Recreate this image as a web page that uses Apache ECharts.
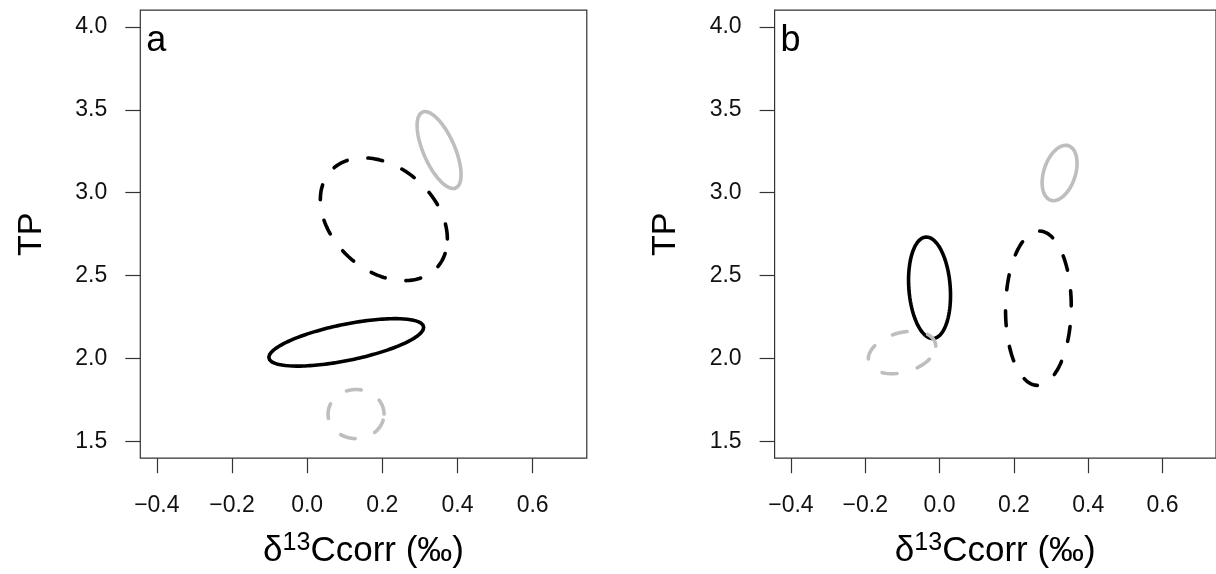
<!DOCTYPE html>
<html>
<head>
<meta charset="utf-8">
<script src="https://cdn.jsdelivr.net/npm/echarts@6/dist/echarts.min.js"></script>
<style>
  html, body { margin: 0; padding: 0; background: #fff; }
  #chart { width: 1216px; height: 574px; }
</style>
</head>
<body>
<div id="chart"></div>
<script>
// tick labels of both panels
var xTicks = [-0.4, -0.2, 0.0, 0.2, 0.4, 0.6];
var yTicks = [1.5, 2.0, 2.5, 3.0, 3.5, 4.0];
var panelLetters = ['a', 'b'];
var groupNames = ['group 1', 'group 2', 'group 3', 'group 4'];

// ellipses (centre, half-width in x, half-height in y, correlation)
var aCentreX = [0.104, 0.204, 0.351, 0.130];
var aCentreY = [2.098, 2.840, 3.257, 1.666];
var aSpreadX = [0.206, 0.169, 0.0585, 0.0745];
var aSpreadY = [0.143, 0.370, 0.232, 0.148];
var aRho = [0.63, -0.32, -0.64, 0.0];

// panel b
var bCentreX = [-0.027, 0.266, 0.323, -0.101];
var bCentreY = [2.427, 2.304, 3.119, 2.037];
var bSpreadX = [0.0565, 0.0884, 0.047, 0.0908];
var bSpreadY = [0.306, 0.465, 0.167, 0.128];
var bRho = [-0.15, 0.03, 0.35, 0.3];

var lineColors = ['#000000', '#000000', '#bebebe', '#bebebe'];
var lineKinds = ['solid', 'dashed', 'solid', 'dashed'];
var font = 'Liberation Sans, Arial, sans-serif';

// outline of an ellipse as a closed list of [x, y]
function ellipsePoints(cx, cy, sx, sy, rho) {
    var pts = [];
    var n = 180;
    var k = Math.sqrt(1 - rho * rho);
    for (var i = 0; i <= n; i++) {
        var t = 2 * Math.PI * i / n;
        pts.push([cx + sx * Math.cos(t), cy + sy * (rho * Math.cos(t) + k * Math.sin(t))]);
    }
    return pts;
}

function tickLabel(v) {
    return v.toFixed(1).replace('-', '\u2212');
}

var gridLefts = [140.3, 774.6];
var grids = [], xAxes = [], yAxes = [], series = [], graphics = [];

for (var p = 0; p < 2; p++) {
    grids.push({
        left: gridLefts[p], top: 10.2, width: 446.5, height: 448,
        show: true, borderColor: '#333', borderWidth: 1.2, backgroundColor: 'transparent'
    });
    xAxes.push({
        type: 'value', gridIndex: p, min: -0.444, max: 0.744,
        name: '{d|δ}{s|13}{t|Ccorr (‰)}',
        nameLocation: 'middle', nameGap: 72,
        nameTextStyle: {
            color: '#000', fontFamily: font, fontSize: 35,
            rich: {
                d: { fontSize: 35, fontFamily: font, color: '#000', lineHeight: 42 },
                s: { fontSize: 25, fontFamily: font, color: '#000', lineHeight: 25, verticalAlign: 'top' },
                t: { fontSize: 35, fontFamily: font, color: '#000', lineHeight: 42 }
            }
        },
        axisLine: { show: false, onZero: false },
        splitLine: { show: false },
        axisTick: { show: true, length: 15, customValues: xTicks, lineStyle: { color: '#333', width: 1.2 } },
        axisLabel: { customValues: xTicks, formatter: tickLabel, margin: 36, fontSize: 23, fontFamily: font, color: '#111' }
    });
    yAxes.push({
        type: 'value', gridIndex: p, min: 1.4, max: 4.1,
        name: 'TP', nameLocation: 'middle', nameGap: 92,
        nameTextStyle: { color: '#000', fontFamily: font, fontSize: 34 },
        axisLine: { show: false, onZero: false },
        splitLine: { show: false },
        axisTick: { show: true, length: 15, customValues: yTicks, lineStyle: { color: '#333', width: 1.2 } },
        axisLabel: { customValues: yTicks, formatter: tickLabel, margin: 33, fontSize: 23, fontFamily: font, color: '#111' }
    });
    graphics.push({
        type: 'text', left: gridLefts[p] + 6, top: 23,
        style: { text: panelLetters[p], fontSize: 36, fontFamily: font, fill: '#000' }
    });

    var cx = p === 0 ? aCentreX : bCentreX;
    var cy = p === 0 ? aCentreY : bCentreY;
    var sx = p === 0 ? aSpreadX : bSpreadX;
    var sy = p === 0 ? aSpreadY : bSpreadY;
    var rho = p === 0 ? aRho : bRho;
    for (var g = 0; g < groupNames.length; g++) {
        series.push({
            name: groupNames[g], type: 'line', xAxisIndex: p, yAxisIndex: p,
            data: ellipsePoints(cx[g], cy[g], sx[g], sy[g], rho[g]),
            showSymbol: false, symbol: 'none', silent: true,
            lineStyle: {
                color: lineColors[g], width: 3.6, cap: 'round', join: 'round',
                type: lineKinds[g] === 'dashed' ? [15, 21] : 'solid'
            }
        });
    }
}

var chart = echarts.init(document.getElementById('chart'));
chart.setOption({
    animation: false,
    backgroundColor: '#fff',
    grid: grids,
    xAxis: xAxes,
    yAxis: yAxes,
    series: series,
    graphic: graphics
});
</script>
</body>
</html>
